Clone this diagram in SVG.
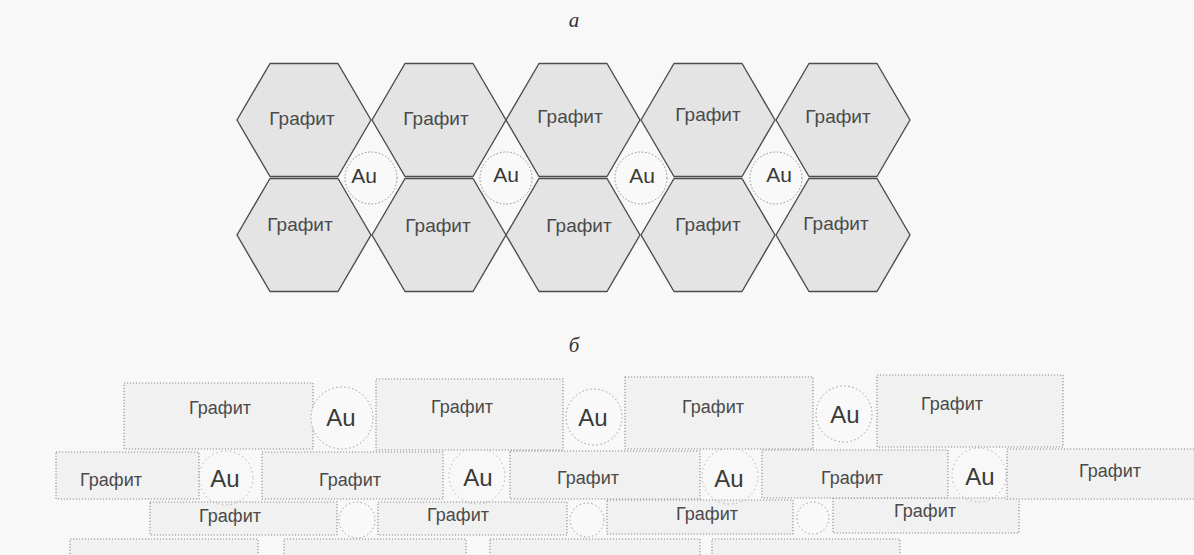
<svg xmlns="http://www.w3.org/2000/svg" width="1194" height="555" viewBox="0 0 1194 555">
<defs>
<style>
.bg{fill:#f8f8f8}
.hex{fill:#e4e4e4;stroke:#4d4d4d;stroke-width:1.4;stroke-linejoin:round}
.auc{fill:#f9f9f9;stroke:#8a8a8a;stroke-width:1;stroke-dasharray:1.5 2}
.gr{font-family:"Liberation Sans",Arial,sans-serif;font-size:19px;fill:#4a4a4a;text-anchor:middle}
.au{font-family:"Liberation Sans",Arial,sans-serif;font-size:21px;fill:#3a3a3a;text-anchor:middle}
.grb{font-family:"Liberation Sans",Arial,sans-serif;font-size:18px;fill:#4a4a4a;text-anchor:middle}
.aub{font-family:"Liberation Sans",Arial,sans-serif;font-size:24px;fill:#3a3a3a;text-anchor:middle}
.rb{fill:#f1f1f1;stroke:#8c8c8c;stroke-width:1.1;stroke-dasharray:1.2 1.8}
.cb{fill:#f9f9f9;stroke:#9a9a9a;stroke-width:1;stroke-dasharray:1.5 2.5}
.cf{fill:none;stroke:#b0b0b0;stroke-width:1;stroke-dasharray:1.5 3}
.ttl{font-family:"Liberation Serif","Times New Roman",serif;font-style:italic;font-size:21px;fill:#333;text-anchor:middle}
</style>
<polygon id="hx" points="-67,0 -34,-56.5 34,-56.5 67,0 34,56.5 -34,56.5"/>
</defs>
<rect class="bg" x="0" y="0" width="1194" height="555"/>

<text class="ttl" x="574" y="27">а</text>

<g id="hexagons-top">
<g id="h1"><use href="#hx" class="hex" x="304" y="120"/><text class="gr" x="302" y="125">Графит</text></g>
<g id="h2"><use href="#hx" class="hex" x="439" y="120"/><text class="gr" x="436" y="125">Графит</text></g>
<g id="h3"><use href="#hx" class="hex" x="573" y="120"/><text class="gr" x="570" y="123">Графит</text></g>
<g id="h4"><use href="#hx" class="hex" x="708" y="120"/><text class="gr" x="708" y="121">Графит</text></g>
<g id="h5"><use href="#hx" class="hex" x="843" y="120"/><text class="gr" x="838" y="123">Графит</text></g>
</g>
<g id="hexagons-bottom">
<g id="h6"><use href="#hx" class="hex" x="304" y="235"/><text class="gr" x="300" y="231">Графит</text></g>
<g id="h7"><use href="#hx" class="hex" x="439" y="235"/><text class="gr" x="438" y="232">Графит</text></g>
<g id="h8"><use href="#hx" class="hex" x="573" y="235"/><text class="gr" x="579" y="232">Графит</text></g>
<g id="h9"><use href="#hx" class="hex" x="708" y="235"/><text class="gr" x="708" y="231">Графит</text></g>
<g id="h10"><use href="#hx" class="hex" x="843" y="235"/><text class="gr" x="836" y="230">Графит</text></g>
</g>
<g id="au-a">
<g id="a1"><circle class="auc" cx="371" cy="178" r="26"/><text class="au" x="364" y="183">Au</text></g>
<g id="a2"><circle class="auc" cx="506" cy="178" r="26"/><text class="au" x="506" y="182">Au</text></g>
<g id="a3"><circle class="auc" cx="641" cy="178" r="26"/><text class="au" x="642" y="183">Au</text></g>
<g id="a4"><circle class="auc" cx="776" cy="178" r="26"/><text class="au" x="779" y="182">Au</text></g>
</g>

<text class="ttl" x="574" y="352">б</text>

<g id="row4">
<rect class="rb" x="70" y="539" width="188" height="22"/>
<rect class="rb" x="284" y="539" width="182" height="22"/>
<rect class="rb" x="490" y="539" width="210" height="22"/>
<rect class="rb" x="712" y="539" width="188" height="22"/>
</g>

<g id="row3">
<g id="r3c1"><circle class="cb" cx="357" cy="520" r="18"/></g>
<g id="r3c2"><circle class="cb" cx="587" cy="520" r="17"/></g>
<g id="r3c3"><circle class="cb" cx="813" cy="518" r="16"/></g>
<g id="r3a"><rect class="rb" x="150" y="502" width="187" height="33"/><text class="grb" x="230" y="522">Графит</text></g>
<g id="r3b"><rect class="rb" x="378" y="502" width="189" height="33"/><text class="grb" x="458" y="521">Графит</text></g>
<g id="r3d"><rect class="rb" x="607" y="500" width="186" height="34"/><text class="grb" x="707" y="520">Графит</text></g>
<g id="r3e"><rect class="rb" x="833" y="498" width="186" height="35"/><text class="grb" x="925" y="517">Графит</text></g>
</g>

<g id="row2">
<g id="r2a"><rect class="rb" x="56" y="452" width="143" height="47"/><text class="grb" x="111" y="486">Графит</text></g>
<g id="r2au1"><circle class="cf" cx="226" cy="478" r="27"/><text class="aub" x="225" y="487">Au</text></g>
<g id="r2b"><rect class="rb" x="262" y="452" width="181" height="47"/><text class="grb" x="350" y="486">Графит</text></g>
<g id="r2au2"><circle class="cf" cx="477" cy="476" r="28"/><text class="aub" x="478" y="486">Au</text></g>
<g id="r2c"><rect class="rb" x="510" y="451" width="190" height="48"/><text class="grb" x="588" y="484">Графит</text></g>
<g id="r2au3"><circle class="cf" cx="730" cy="476" r="28"/><text class="aub" x="729" y="487">Au</text></g>
<g id="r2d"><rect class="rb" x="762" y="450" width="186" height="48"/><text class="grb" x="852" y="484">Графит</text></g>
<g id="r2au4"><circle class="cf" cx="979" cy="475" r="27"/><text class="aub" x="980" y="485">Au</text></g>
<g id="r2e"><rect class="rb" x="1007" y="449" width="190" height="50"/><text class="grb" x="1110" y="477">Графит</text></g>
</g>

<g id="row1">
<g id="r1a"><rect class="rb" x="124" y="383" width="189" height="66"/><text class="grb" x="220" y="414">Графит</text></g>
<g id="r1au1"><circle class="cb" cx="342" cy="418" r="31"/><text class="aub" x="341" y="426">Au</text></g>
<g id="r1b"><rect class="rb" x="376" y="379" width="187" height="71"/><text class="grb" x="462" y="413">Графит</text></g>
<g id="r1au2"><circle class="cb" cx="594" cy="417" r="28"/><text class="aub" x="593" y="426">Au</text></g>
<g id="r1c"><rect class="rb" x="625" y="377" width="188" height="72"/><text class="grb" x="713" y="413">Графит</text></g>
<g id="r1au3"><circle class="cb" cx="844" cy="414" r="28"/><text class="aub" x="845" y="423">Au</text></g>
<g id="r1d"><rect class="rb" x="877" y="375" width="186" height="72"/><text class="grb" x="952" y="410">Графит</text></g>
</g>
</svg>
